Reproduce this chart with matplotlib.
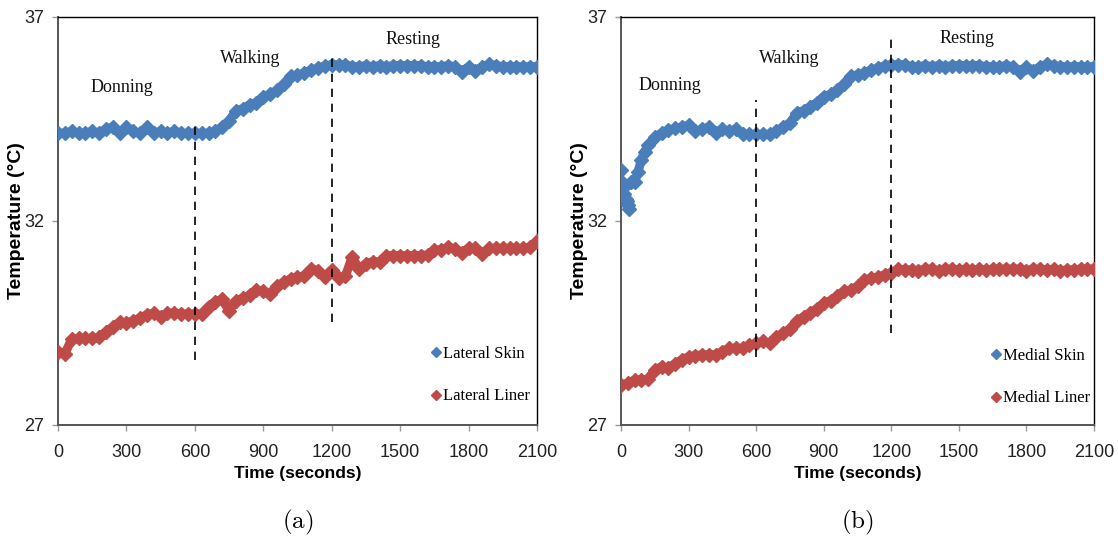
import matplotlib
matplotlib.use("Agg")
import matplotlib.pyplot as plt
from matplotlib import font_manager as fm
import numpy as np

# ---------------- data ----------------
t30 = list(range(0, 2101, 30))

lat_skin = [34.15, 34.15, 34.2, 34.15, 34.15, 34.2, 34.15, 34.25, 34.3, 34.15,
            34.3, 34.2, 34.15, 34.3, 34.15, 34.2, 34.15, 34.2, 34.15, 34.15,
            34.15, 34.15, 34.15, 34.2, 34.3, 34.45, 34.7, 34.75, 34.85, 34.9,
            35.05, 35.1, 35.2, 35.35, 35.55, 35.58, 35.62, 35.7, 35.75, 35.8,
            35.83, 35.83, 35.83, 35.78, 35.78, 35.81, 35.78, 35.81, 35.78, 35.81,
            35.81, 35.81, 35.81, 35.81, 35.78, 35.78, 35.78, 35.81, 35.78, 35.66,
            35.78, 35.68, 35.78, 35.84, 35.81, 35.78, 35.78, 35.78, 35.78, 35.78,
            35.78]

lat_liner = [28.8, 28.75, 29.1, 29.12, 29.12, 29.12, 29.15, 29.28, 29.4, 29.52,
             29.5, 29.55, 29.62, 29.7, 29.74, 29.65, 29.74, 29.74, 29.72, 29.72,
             29.72, 29.72, 29.9, 30.02, 30.08, 29.8, 30.04, 30.1, 30.18, 30.3,
             30.28, 30.2, 30.4, 30.5, 30.58, 30.62, 30.65, 30.82, 30.78, 30.62,
             30.8, 30.6, 30.65, 31.12, 30.82, 30.95, 31.0, 31.0, 31.15, 31.15,
             31.15, 31.15, 31.15, 31.15, 31.17, 31.28, 31.3, 31.35, 31.32, 31.22,
             31.33, 31.33, 31.2, 31.33, 31.33, 31.33, 31.33, 31.33, 31.33, 31.35,
             31.5]

med_skin_t = [0, 5, 10, 15, 20, 25, 30, 35, 45, 60, 75, 90, 105, 120] + list(range(150, 2101, 30))
med_skin = [33.25, 32.95, 32.8, 32.65, 32.55, 32.5, 32.4, 32.3, 32.95, 32.95, 33.2, 33.5, 33.7, 33.85,
            34.05, 34.15, 34.22, 34.27, 34.3, 34.35, 34.2, 34.25, 34.3, 34.15,
            34.25, 34.2, 34.25, 34.12, 34.12, 34.12, 34.12, 34.12, 34.2, 34.3,
            34.4, 34.65, 34.7, 34.8, 34.9, 35.05, 35.1, 35.2, 35.35, 35.55,
            35.58, 35.62, 35.7, 35.75, 35.8, 35.83, 35.83, 35.83, 35.78, 35.78,
            35.81, 35.78, 35.81, 35.78, 35.81, 35.81, 35.81, 35.81, 35.81, 35.78,
            35.78, 35.78, 35.81, 35.78, 35.66, 35.78, 35.68, 35.78, 35.84, 35.81,
            35.78, 35.78, 35.78, 35.78, 35.78, 35.78]

med_liner = [27.98, 28.02, 28.1, 28.1, 28.12, 28.35, 28.43, 28.4, 28.5, 28.6,
             28.67, 28.7, 28.72, 28.72, 28.72, 28.8, 28.88, 28.88, 28.88, 28.95,
             29.0, 29.05, 29.0, 29.15, 29.25, 29.35, 29.55, 29.65, 29.75, 29.85,
             29.98, 30.05, 30.15, 30.28, 30.3, 30.4, 30.55, 30.6, 30.62, 30.68,
             30.72, 30.82, 30.8, 30.8, 30.78, 30.82, 30.82, 30.78, 30.82, 30.82,
             30.8, 30.82, 30.8, 30.82, 30.8, 30.82, 30.82, 30.82, 30.82, 30.82,
             30.78, 30.82, 30.82, 30.8, 30.82, 30.78, 30.8, 30.8, 30.82, 30.82,
             30.82]

phase_times = [600, 1200]
dash_a = [(28.6, 34.48), (29.52, 36.14)]
dash_b = [(28.67, 34.97), (29.25, 36.6)]

phase_labels = ["Donning", "Walking", "Resting"]
phase_pos_a = [(281, 35.28), (842, 35.97), (1557, 36.44)]
phase_pos_b = [(218, 35.33), (746, 35.97), (1536, 36.48)]

x_ticks = [0, 300, 600, 900, 1200, 1500, 1800, 2100]
y_ticks = [27, 32, 37]

# ---------------- style ----------------
BLUE = "#4A7EBB"
RED = "#BE4B48"

avail = {f.name for f in fm.fontManager.ttflist}
sans = "Liberation Sans" if "Liberation Sans" in avail else "DejaVu Sans"
serif = "Liberation Serif" if "Liberation Serif" in avail else "DejaVu Serif"
plt.rcParams["mathtext.fontset"] = "cm"

fig = plt.figure(figsize=(11.18, 5.42), dpi=100)
ax_a = fig.add_axes([0.0519, 0.2159, 0.4284, 0.7528])
ax_b = fig.add_axes([0.5555, 0.2159, 0.4231, 0.7528])


def draw(ax, series, dashes, ppos, legend_anchor, caption):
    for (tx, ty, col, lab, line_from) in series:
        tx = np.asarray(tx)
        ty = np.asarray(ty)
        m = tx >= line_from
        ax.plot(tx[m], ty[m], color=col, lw=6.5, solid_capstyle="round", zorder=2)
        ax.plot(tx, ty, ls="none", marker="D", ms=7, color=col, zorder=3)
        ax.plot([], [], ls="none", marker="D", ms=5, color=col, label=lab)
    for t, (y0, y1) in zip(phase_times, dashes):
        ax.plot([t, t], [y0, y1], color="black", lw=1.2, ls=(0, (5, 4)), zorder=4)
    for lab, (x, y) in zip(phase_labels, ppos):
        ax.text(x, y, lab, ha="center", va="center", fontsize=13,
                family=serif, color="#111111")
    ax.set_xlim(0, 2100)
    ax.set_ylim(27, 37)
    ax.set_xticks(x_ticks)
    ax.set_yticks(y_ticks)
    ax.set_xticklabels([str(v) for v in x_ticks], family=sans, fontsize=13)
    ax.set_yticklabels([str(v) for v in y_ticks], family=sans, fontsize=13)
    ax.tick_params(axis="x", pad=10)
    ax.tick_params(axis="y", pad=6)
    ax.tick_params(axis="both", direction="out", length=4, width=1,
                   color="#999999", labelcolor="#222222")
    for s in ["left", "bottom"]:
        ax.spines[s].set_color("#555555")
        ax.spines[s].set_linewidth(1.4)
    for s in ["top", "right"]:
        ax.spines[s].set_color("black")
        ax.spines[s].set_linewidth(1.0)
    ax.set_xlabel("Time (seconds)", family=sans, fontweight="bold",
                  fontsize=12.5, labelpad=3)
    ax.set_ylabel("Temperature (°C)", family=sans, fontweight="bold",
                  fontsize=14)
    ax.legend(loc="lower left", bbox_to_anchor=legend_anchor, frameon=False,
              prop={"family": serif, "size": 12}, handlelength=0.6,
              handletextpad=0.1, labelspacing=1.6, borderpad=0)
    fig.text(sum(ax.get_position().intervalx) / 2, 0.036, caption,
             ha="center", va="center", fontsize=18)


draw(ax_a,
     [(t30, lat_skin, BLUE, "Lateral Skin", 0),
      (t30, lat_liner, RED, "Lateral Liner", 0)],
     dash_a, phase_pos_a, (0.762, 0.03), r"$\mathrm{(a)}$")
draw(ax_b,
     [(med_skin_t, med_skin, BLUE, "Medial Skin", 45),
      (t30, med_liner, RED, "Medial Liner", 0)],
     dash_b, phase_pos_b, (0.765, 0.025), r"$\mathrm{(b)}$")

ax_a.yaxis.set_label_coords(-0.068, 0.5)
ax_b.yaxis.set_label_coords(-0.070, 0.5)

fig.savefig("out.png", dpi=100)
